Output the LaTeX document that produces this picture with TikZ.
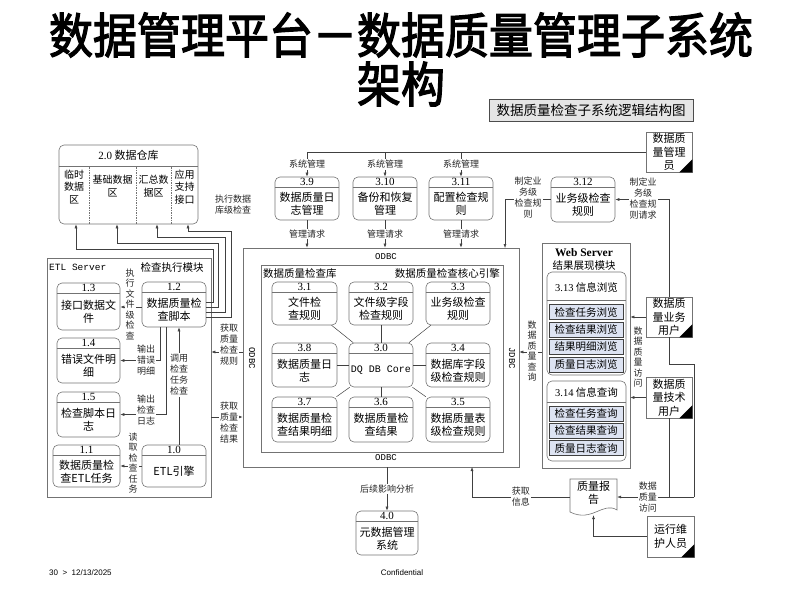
\documentclass[tikz,border=0pt]{standalone}
\usepackage{fontspec}
\setmainfont{Noto Sans CJK SC}
\newfontfamily\titlef{Noto Sans CJK SC}[FakeBold=2.6]
\newfontfamily\numf{Liberation Serif}
\newfontfamily\monof{Liberation Mono}
\newfontfamily\sansf{Liberation Sans}
\usetikzlibrary{arrows.meta}
\tikzset{
  ln/.style={draw=black!75, line width=0.5pt},
  arr/.style={ln, -{Latex[length=4pt,width=3pt]}},
  boxln/.style={draw=black!55, line width=0.6pt},
  pboxst/.style={boxln, rounded corners=5pt, inner sep=0pt},
  sqbox/.style={boxln, inner sep=0pt},
  divst/.style={draw=black!55, line width=0.5pt},
  numst/.style={inner sep=0pt, font=\numf\fontsize{11}{12}\selectfont},
  bodyst/.style={inner sep=0pt, align=center, font=\fontsize{11}{13}\selectfont},
  lbl/.style={fill=white, inner sep=1pt, align=center, text=black!85, font=\fontsize{9}{11}\selectfont},
  vlbl/.style={fill=white, inner sep=1pt, align=center, text=black!85, font=\fontsize{9}{10.5}\selectfont},
  actorst/.style={boxln, inner sep=0pt, align=center, font=\fontsize{11}{13.5}\selectfont},
  subst/.style={draw=black!75, fill={rgb,255:red,221;green,227;blue,242}, line width=0.7pt, inner sep=0pt, minimum width=74, minimum height=15, font=\fontsize{10.5}{12}\selectfont},
  tagst/.style={inner sep=0pt, align=center, font=\fontsize{10.5}{12.5}\selectfont},
  monost/.style={inner sep=0pt, font=\monof\fontsize{9}{11}\selectfont},
}
\newcommand\procbox[7]{%
  \node[pboxst, minimum width=#4, minimum height=#5] (#1) at (#2,#3) {};
  \draw[divst] ([yshift=-11pt]#1.north west) -- ([yshift=-11pt]#1.north east);
  \node[numst] at ([yshift=-5.5pt]#1.north) {#6};
  \node[bodyst] at ([yshift=-5.5pt]#1.center) {#7};
}
\newcommand\actorbox[6]{%
  \node[actorst, minimum width=#4, minimum height=#5] (#1) at (#2,#3) {#6};
  \fill[black] ([xshift=-13pt]#1.south east) -- (#1.south east) -- ([yshift=13pt]#1.south east) -- cycle;
}
\begin{document}
\begin{tikzpicture}[x=1pt,y=-1pt]
\useasboundingbox (0,0) rectangle (800,600);

% title
\node[inner sep=0pt, font=\titlef\fontsize{44}{50}\selectfont] (title1) at (401,35) {\scalebox{1}[1.1]{数据管理平台－数据质量管理子系统}};
\node[inner sep=0pt, font=\titlef\fontsize{44}{50}\selectfont] (title2) at (401,84) {\scalebox{1}[1.1]{架构}};
\node[draw=black!70, fill=black!10, minimum width=204, minimum height=22, inner sep=0pt, font=\fontsize{13.5}{15}\selectfont] (caption) at (591,110) {数据质量检查子系统逻辑结构图};

% data warehouse
\node[pboxst, minimum width=139, minimum height=79] (dw) at (128.5,184.5) {};
\draw[divst] ([yshift=-22pt]dw.north west) -- ([yshift=-22pt]dw.north east);
\node[tagst, font=\fontsize{11}{12}\selectfont] at ([yshift=-11pt]dw.north) {{\numf 2.0} 数据仓库};
\draw[divst, dash pattern=on 1.5pt off 1pt] (89,167) -- (89,224);
\draw[divst, dash pattern=on 1.5pt off 1pt] (136,167) -- (136,224);
\draw[divst, dash pattern=on 1.5pt off 1pt] (171,167) -- (171,224);
\node[tagst, font=\fontsize{10}{12.5}\selectfont] at (74,187) {临时\\数据\\区};
\node[tagst, font=\fontsize{10}{12.5}\selectfont] at (112.5,186) {基础数据\\区};
\node[tagst, font=\fontsize{10}{12.5}\selectfont] at (153.5,186) {汇总数\\据区};
\node[tagst, font=\fontsize{10}{12.5}\selectfont] at (184.5,187) {应用\\支持\\接口};

% ETL server
\node[sqbox, minimum width=164, minimum height=239] (etl) at (129,377.5) {};
\node[monost, anchor=west, font=\monof\fontsize{9.5}{11}\selectfont] at (49,267) {ETL Server};
\node[tagst] at (172,267) {检查执行模块};
\procbox{b13}{88.5}{306.5}{63}{47}{1.3}{接口数据文\\件}
\procbox{b12}{174}{304.5}{64}{45}{1.2}{数据质量检\\查脚本}
\procbox{b14}{88.5}{360.5}{63}{45}{1.4}{错误文件明\\细}
\procbox{b15}{88.5}{414.5}{63}{45}{1.5}{检查脚本日\\志}
\procbox{b11}{86.5}{466}{67}{42}{1.1}{数据质量检\\查ETL任务}
\procbox{b10}{174}{466}{64}{42}{1.0}{ETL引擎}

\draw[arr] (b12.west |- 0,307) -- (b13.east |- 0,307);
\node[vlbl] at (130,304) {执\\行\\文\\件\\级\\检\\查};
\draw[arr] ([xshift=-14pt]b12.south) |- (b14.east);
\node[lbl] at (146,360) {输出\\错误\\明细};
\draw[arr] ([xshift=-8pt]b12.south) |- (b15.east);
\node[lbl] at (146,410) {输出\\检查\\日志};
\draw[arr] ([xshift=5pt]b10.north) -- ([xshift=5pt]b12.south);
\node[lbl] at (179,375) {调用\\检查\\任务\\检查};
\draw[arr] (b10.west) -- (b11.east);
\node[vlbl] at (133,463) {读\\取\\检\\查\\任\\务};

% lines to data warehouse
\draw[arr] (b12.east |- 0,302) -| (213,249) -| ([xshift=-52.5pt]dw.south);
\draw[arr] (b12.east |- 0,307) -| (218,243) -| ([xshift=-11.5pt]dw.south);
\draw[arr] (b12.east |- 0,312) -| (225,237) -| ([xshift=28.5pt]dw.south);
\draw[arr] (b12.east |- 0,317) -| (231,231) -| ([xshift=59.5pt]dw.south);
\node[lbl, fill=none] at (233,205) {执行数据\\库级检查};

% ODBC block
\node[sqbox, minimum width=276, minimum height=219] (odbc) at (381,357.5) {};
\node[sqbox, minimum width=242, minimum height=187] (core) at (382,358.5) {};
\node[monost] at (386,257) {ODBC};
\node[monost] at (386,458) {ODBC};
\node[monost, rotate=-90] at (252,358) {ODBC};
\node[monost, rotate=-90] at (512,358) {JDBC};
\node[tagst, anchor=west] at (263,273) {数据质量检查库};
\node[tagst, anchor=east] at (500,273) {数据质量检查核心引擎};
\procbox{b31}{304.5}{303.5}{65}{43}{3.1}{文件检\\查规则}
\procbox{b32}{381}{303.5}{64}{43}{3.2}{文件级字段\\检查规则}
\procbox{b33}{458}{303.5}{64}{43}{3.3}{业务级检查\\规则}
\procbox{b38}{304.5}{365}{65}{44}{3.8}{数据质量日\\志}
\procbox{b30}{381}{365}{64}{44}{3.0}{\monof\fontsize{10}{12}\selectfont DQ DB Core}
\procbox{b34}{458}{365}{64}{44}{3.4}{数据库字段\\级检查规则}
\procbox{b37}{304.5}{419.5}{65}{45}{3.7}{数据质量检\\查结果明细}
\procbox{b36}{381}{419.5}{64}{45}{3.6}{数据质量检\\查结果}
\procbox{b35}{458}{419.5}{64}{45}{3.5}{数据质量表\\级检查规则}
\foreach \n in {31,32,33,34,35,36,37,38} \draw[ln] (b30) -- (b\n);

% ETL <-> ODBC
\draw[arr] (odbc.west |- 0,352) -- (etl.east |- 0,352);
\node[lbl] at (229,345) {获取\\质量\\检查\\规则};
\draw[arr] (etl.east |- 0,417) -- (odbc.west |- 0,417);
\node[lbl] at (229,423) {获取\\质量\\检查\\结果};

% top management boxes
\procbox{b39}{307}{198.5}{64}{43}{3.9}{数据质量日\\志管理}
\procbox{b310}{385}{198.5}{64}{43}{3.10}{备份和恢复\\管理}
\procbox{b311}{461}{198.5}{64}{43}{3.11}{配置检查规\\则}
\procbox{b312}{583}{199.5}{64}{45}{3.12}{业务级检查\\规则}
\actorbox{adm}{669}{152}{46}{40}{数据质\\量管理\\员}

\draw[ln] (adm.west) -- (adm.west -| b39.north);
\draw[arr] (adm.west -| b39.north) -- node[lbl]{系统管理} (b39.north);
\draw[arr] (adm.west -| b310.north) -- node[lbl]{系统管理} (b310.north);
\draw[arr] (adm.west -| b311.north) -- node[lbl]{系统管理} (b311.north);
\draw[arr] (b39.south) -- node[lbl]{管理请求} (b39.south |- odbc.north);
\draw[arr] (b310.south) -- node[lbl]{管理请求} (b310.south |- odbc.north);
\draw[arr] (b311.south) -- node[lbl]{管理请求} (b311.south |- odbc.north);

\coordinate (c312) at (505,248);
\draw[arr] (b312.west) -| (c312);
\node[lbl] at (528,198) {制定业\\务级\\检查规\\则};

% web server
\node[sqbox, minimum width=88, minimum height=225] (web) at (586,355.5) {};
\node[inner sep=0pt, font=\numf\bfseries\fontsize{11.5}{12}\selectfont] at (584,253) {Web Server};
\node[tagst] at (584,266) {结果展现模块};
\node[pboxst, minimum width=79, minimum height=103] (b313) at (586.5,323.5) {};
\draw[divst] ([yshift=-29pt]b313.north west) -- ([yshift=-29pt]b313.north east);
\node[tagst] at (586.5,287) {{\numf 3.13} 信息浏览};
\node[subst] (s1) at (586,312) {检查任务浏览};
\node[subst] (s2) at (586,329.5) {检查结果浏览};
\node[subst] (s3) at (586,347) {结果明细浏览};
\node[subst] (s4) at (586,364.5) {质量日志浏览};
\node[pboxst, minimum width=79, minimum height=80] (b314) at (586.5,421) {};
\draw[divst] ([yshift=-22pt]b314.north west) -- ([yshift=-22pt]b314.north east);
\node[tagst] at (586.5,392) {{\numf 3.14} 信息查询};
\node[subst] (q1) at (586,413.5) {检查任务查询};
\node[subst] (q2) at (586,430.5) {检查结果查询};
\node[subst] (q3) at (586,448) {质量日志查询};

\draw[arr] (web.west |- 0,352) -- (odbc.east |- 0,352);
\node[vlbl] at (532,351) {数\\据\\质\\量\\查\\询};

\actorbox{ubiz}{669}{317}{46}{40}{数据质\\量业务\\用户}
\actorbox{utech}{669}{397.5}{46}{41}{数据质\\量技术\\用户}
\actorbox{ops}{670.5}{536.5}{47}{41}{运行维\\护人员}

\draw[arr] (ubiz.west) -- (ubiz.west -| web.east);
\draw[arr] (utech.west) -- (utech.west -| web.east);
\node[vlbl] at (638,357) {数\\据\\质\\量\\访\\问};
\draw[arr] (ubiz.north) |- (b312.east);
\node[lbl] at (643,199) {制定业\\务级\\检查规\\则请求};

% quality report
\node[minimum width=47, minimum height=36, inner sep=0pt] (rep) at (593.5,497) {};
\draw[boxln, fill=white] (570,479) -- (617,479) -- (617,510) .. controls (603,501) and (592,523) .. (570,512) -- cycle;
\node[tagst, font=\fontsize{11}{12.5}\selectfont] at (593.5,493) {质量报\\告};

\coordinate (j1) at (694,364);
\coordinate (j2) at (694,497);
\coordinate (cinfo) at (472,467);
\draw[ln] (ubiz.south) |- (j1) -- (j2);
\draw[ln] (utech.south) -- (utech.south |- j2);
\draw[arr] (j2) -- node[lbl, pos=0.6]{数据\\质量\\访问} (rep.east);
\draw[arr] (ops.west) -| (rep.south);
\draw[arr] (rep.west) -| node[lbl, pos=0.25]{获取\\信息} (cinfo);

% metadata
\procbox{b40}{387}{533}{62}{44}{4.0}{元数据管理\\系统}
\draw[arr] (b40.north |- odbc.south) -- node[lbl]{后续影响分析} (b40.north);

% footer
\node[anchor=west, inner sep=0pt, font=\sansf\fontsize{8}{10}\selectfont] at (49,573) {30 ~>~ 12/13/2025};
\node[inner sep=0pt, font=\sansf\fontsize{8}{10}\selectfont] at (402,573) {Confidential};
\end{tikzpicture}
\end{document}
